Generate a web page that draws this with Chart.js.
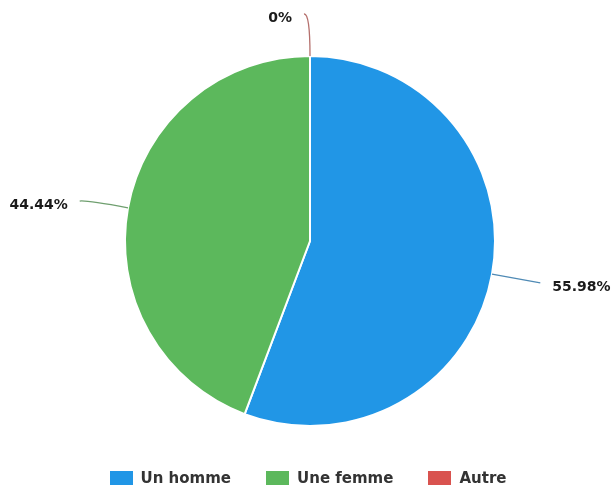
<!DOCTYPE html>
<html>
<head>
<meta charset="utf-8">
<script src="https://cdn.jsdelivr.net/npm/chart.js@4"></script>
<style>
  html, body { margin: 0; padding: 0; background: #fff; }
  #wrap { position: relative; width: 616px; height: 492px; }
  #legend {
    position: absolute; left: 0; top: 469px; width: 616px;
    display: flex; justify-content: center; gap: 35px;
    font: bold 15px "DejaVu Sans", sans-serif; color: #333;
  }
  .item { display: flex; align-items: center; gap: 8px; line-height: 18px; }
  .box { width: 23px; height: 14px; display: inline-block; }
</style>
</head>
<body>
<div id="wrap">
  <canvas id="mainChart" width="616" height="492"></canvas>
  <div id="legend"></div>
</div>
<script>
const labels = ['Un homme', 'Une femme', 'Autre'];
const values = [55.98, 44.44, 0];
const sliceColors = ['#2196e6', '#5cb85c', '#d9534f'];
const lineColors = ['#4f8ab5', '#6f9f6f', '#b5706d'];

// leader lines + percentage labels
const leaderLabels = {
  id: 'leaderLabels',
  afterDraw(chart) {
    const ctx = chart.ctx;
    const arcs = chart.getDatasetMeta(0).data;
    ctx.save();
    arcs.forEach((arc, i) => {
      const { x, y, startAngle, endAngle, outerRadius } = arc.getProps(['x', 'y', 'startAngle', 'endAngle', 'outerRadius'], true);
      const mid = (startAngle + endAngle) / 2;
      const c = Math.cos(mid), s = Math.sin(mid);
      const r = outerRadius;
      const p0 = { x: x + r * c, y: y + r * s };
      const p1 = { x: x + (r + 43) * c, y: y + (r + 43) * s };
      const dir = c > 0.01 ? 1 : -1;
      const p2 = { x: p1.x + dir * 6, y: p1.y + 1 };

      ctx.beginPath();
      ctx.moveTo(p0.x, p0.y);
      ctx.quadraticCurveTo(p1.x, p1.y, p2.x, p2.y);
      ctx.strokeStyle = lineColors[i];
      ctx.lineWidth = 1.3;
      ctx.stroke();

      ctx.font = 'bold 14px "DejaVu Sans", sans-serif';
      ctx.fillStyle = '#1a1a1a';
      ctx.textBaseline = 'middle';
      ctx.textAlign = dir > 0 ? 'left' : 'right';
      ctx.fillText(values[i] + '%', p2.x + dir * 12, p2.y + 4);
    });
    ctx.restore();
  }
};

const chart = new Chart(document.getElementById('mainChart').getContext('2d'), {
  type: 'pie',
  data: {
    labels: labels,
    datasets: [{
      data: values,
      backgroundColor: sliceColors,
      borderColor: '#ffffff',
      borderWidth: 2,
      radius: 185
    }]
  },
  options: {
    responsive: false,
    animation: false,
    layout: { padding: { left: 4, right: 0, top: 0, bottom: 10 } },
    plugins: {
      legend: { display: false },
      tooltip: { enabled: false }
    }
  },
  plugins: [leaderLabels]
});

// html legend
const legendEl = document.getElementById('legend');
labels.forEach((name, i) => {
  const item = document.createElement('span');
  item.className = 'item';
  item.innerHTML = `<span class="box" style="background:${sliceColors[i]}"></span>${name}`;
  legendEl.appendChild(item);
});
</script>
</body>
</html>
